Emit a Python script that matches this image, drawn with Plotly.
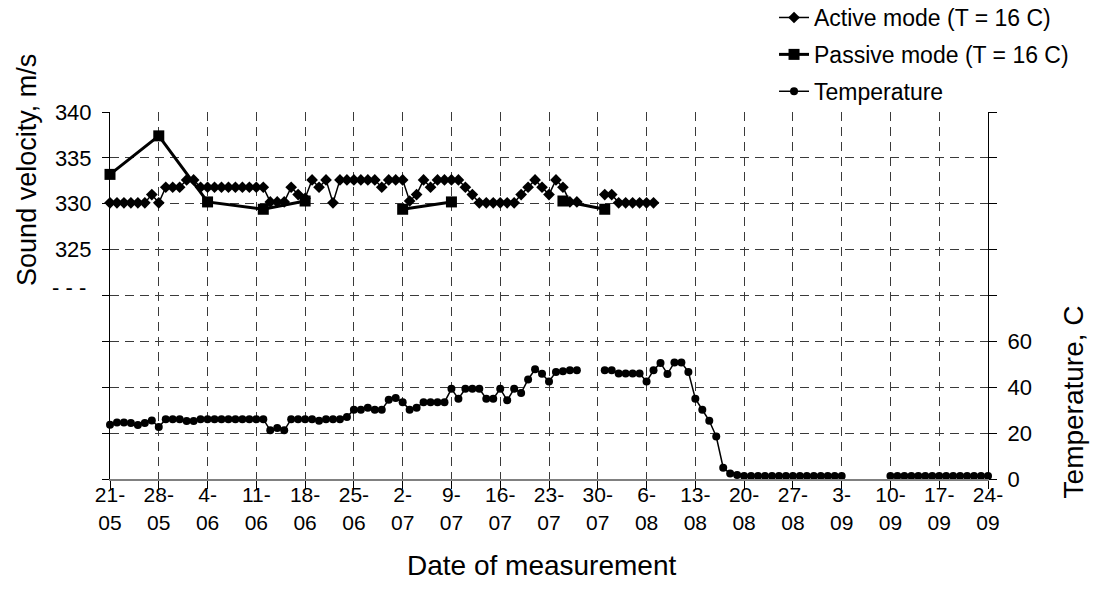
import plotly.graph_objects as go
import pandas as pd

# ---- data -------------------------------------------------------------
dates = [d.strftime("%Y-%m-%d") for d in pd.date_range("2009-05-21", "2009-09-24", freq="D")]

active_velocity = [
    330.1, 330.1, 330.1, 330.1, 330.1, 330.1,
    331.0, 330.1,
    331.8, 331.8, 331.8,
    332.6, 332.6,
    331.8, 331.8, 331.8, 331.8, 331.8, 331.8, 331.8, 331.8, 331.8, 331.8,
    330.2, 330.2, 330.2,
    331.8, 331.0, 330.6,
    332.6, 331.8, 332.6, 330.1,
    332.6, 332.6, 332.6, 332.6, 332.6, 332.6,
    331.8,
    332.6, 332.6, 332.6,
    330.3, 331.0, 332.6, 331.8,
    332.6, 332.6, 332.6, 332.6,
    331.8, 331.0,
    330.1, 330.1, 330.1, 330.1, 330.1, 330.1,
    331.0, 331.8, 332.6, 331.8, 331.0, 332.6, 331.8,
    330.2, 330.2,
    None, None, None,
    331.0, 331.0,
    330.1, 330.1, 330.1, 330.1, 330.1, 330.1,
] + [None] * 48

passive_dates = ["2009-05-21", "2009-05-28", "2009-06-04", "2009-06-12", "2009-06-18",
                 "2009-06-25", "2009-07-02", "2009-07-09", "2009-07-17", "2009-07-25", "2009-07-31"]
passive_velocity = [333.2, 337.4, 330.2, 329.4, 330.3, None, 329.4, 330.2, None, 330.3, 329.4]

temperature = [
    23.6, 24.6, 24.6, 24.4, 23.5, 24.4, 25.5, 22.7,
    26.1, 26.1, 26.1, 25.3, 25.3,
    26.1, 26.1, 26.1, 26.1, 26.1, 26.1, 26.1, 26.1, 26.1, 26.1,
    21.2, 22.2, 21.2,
    26.1, 26.1, 26.1, 26.1,
    25.4,
    26.1, 26.1, 26.1,
    27.0, 30.2, 30.2, 31.1, 30.2, 30.2,
    34.5, 35.3, 33.5, 30.2, 31.1,
    33.5, 33.5, 33.5, 33.5,
    39.3, 35.0, 39.3, 39.3, 39.3, 35.0, 35.0, 39.3, 34.3, 39.3, 37.5,
    43.4, 47.8, 45.9, 42.5, 46.7, 47.0, 47.4, 47.4,
    None, None, None,
    47.4, 47.4, 46.0, 46.0, 46.0, 46.0, 42.5, 47.4, 50.6, 45.8, 50.8, 50.8, 46.7,
    35.0, 30.2, 25.4, 18.5, 4.9, 2.4, 1.7,
    1.3, 1.3, 1.3, 1.3, 1.3, 1.3, 1.3, 1.3, 1.3, 1.3, 1.3, 1.3, 1.3, 1.3, 1.3,
    None, None, None, None, None, None,
    1.3, 1.3, 1.3, 1.3, 1.3, 1.3, 1.3, 1.3, 1.3, 1.3, 1.3, 1.3, 1.3, 1.3, 1.3,
]

x_tick_dates = ["2009-05-21", "2009-05-28", "2009-06-04", "2009-06-11", "2009-06-18",
                "2009-06-25", "2009-07-02", "2009-07-09", "2009-07-16", "2009-07-23",
                "2009-07-30", "2009-08-06", "2009-08-13", "2009-08-20", "2009-08-27",
                "2009-09-03", "2009-09-10", "2009-09-17", "2009-09-24"]
x_tick_labels = ["21-<br>05", "28-<br>05", "4-<br>06", "11-<br>06", "18-<br>06",
                 "25-<br>06", "2-<br>07", "9-<br>07", "16-<br>07", "23-<br>07",
                 "30-<br>07", "6-<br>08", "13-<br>08", "20-<br>08", "27-<br>08",
                 "3-<br>09", "10-<br>09", "17-<br>09", "24-<br>09"]

vel_tick_vals = [300, 305, 310, 315, 320, 325, 330, 335, 340]
vel_tick_labels = ["", "", "", "", "", "325", "330", "335", "340"]
temp_tick_vals = [0, 20, 40, 60, 80, 100, 120, 140, 160]
temp_tick_labels = ["0", "20", "40", "60", "", "", "", "", ""]

FONT = "Liberation Sans, Arial, sans-serif"
GRID = "#3a3a3a"
DASH = "9px,6px"

# ---- figure -----------------------------------------------------------
fig = go.Figure()

fig.add_trace(go.Scatter(
    x=dates, y=active_velocity, name="Active mode (T = 16 C)",
    mode="lines+markers", legendgroup="a",
    line=dict(color="black", width=1.5),
    marker=dict(symbol="diamond", size=9, color="black"),
    cliponaxis=False, connectgaps=False,
))
fig.add_trace(go.Scatter(
    x=passive_dates, y=passive_velocity, name="Passive mode (T = 16 C)",
    mode="lines+markers", legendgroup="b",
    line=dict(color="black", width=3),
    marker=dict(symbol="square", size=11, color="black"),
    cliponaxis=False, connectgaps=False,
))
fig.add_trace(go.Scatter(
    x=dates, y=temperature, name="Temperature", yaxis="y2",
    mode="lines+markers", legendgroup="c",
    line=dict(color="black", width=1.5),
    marker=dict(symbol="circle", size=8, color="black"),
    cliponaxis=False, connectgaps=False,
))

fig.update_layout(
    width=1094, height=604, autosize=False,
    margin=dict(l=110, r=106, t=112, b=125, pad=0, autoexpand=False),
    paper_bgcolor="white", plot_bgcolor="white",
    font=dict(family=FONT, color="black", size=22),
    showlegend=True,
    legend=dict(
        x=0.7563, y=1.316, xanchor="left", yanchor="top",
        font=dict(family=FONT, size=23, color="black"),
        bgcolor="rgba(0,0,0,0)", tracegroupgap=4,
    ),
    xaxis=dict(
        type="date", range=[dates[0], dates[-1]],
        tickmode="array", tickvals=x_tick_dates, ticktext=x_tick_labels,
        tickangle=0, tickfont=dict(size=21),
        showgrid=True, gridcolor=GRID, gridwidth=1, griddash=DASH,
        showline=True, linecolor="#808080", linewidth=2,
        ticks="outside", ticklen=8, tickcolor="black", tickwidth=1,
        ticklabelstandoff=-12,
        zeroline=False,
    ),
    yaxis=dict(
        range=[300, 340], tickmode="array", tickvals=vel_tick_vals, ticktext=vel_tick_labels,
        tickfont=dict(size=22),
        showgrid=True, gridcolor=GRID, gridwidth=1, griddash=DASH,
        showline=True, linecolor="black", linewidth=1,
        ticks="outside", ticklen=7, tickcolor="black", tickwidth=1,
        ticklabelstandoff=6,
        zeroline=False,
    ),
    yaxis2=dict(
        overlaying="y", side="right", range=[0, 160],
        tickmode="array", tickvals=temp_tick_vals, ticktext=temp_tick_labels,
        tickfont=dict(size=22),
        showgrid=False,
        showline=True, linecolor="black", linewidth=1,
        ticks="outside", ticklen=8, tickcolor="black", tickwidth=1,
        ticklabelstandoff=6,
        zeroline=False,
    ),
    annotations=[
        dict(text="Sound velocity, m/s", xref="paper", yref="paper",
             x=-0.0946, y=0.842, textangle=-90, showarrow=False,
             xanchor="center", yanchor="middle", font=dict(size=27)),
        dict(text="Temperature, C", xref="paper", yref="paper",
             x=1.0974, y=0.21, textangle=-90, showarrow=False,
             xanchor="center", yanchor="middle", font=dict(size=28)),
        dict(text="Date of measurement", xref="paper", yref="paper",
             x=0.491, y=-0.237, showarrow=False,
             xanchor="center", yanchor="middle", font=dict(size=28)),
        dict(text="- - -", xref="paper", yref="paper",
             x=-0.025, y=0.522, showarrow=False,
             xanchor="right", yanchor="middle", font=dict(size=22)),
    ],
)

fig.write_html("out.html")
